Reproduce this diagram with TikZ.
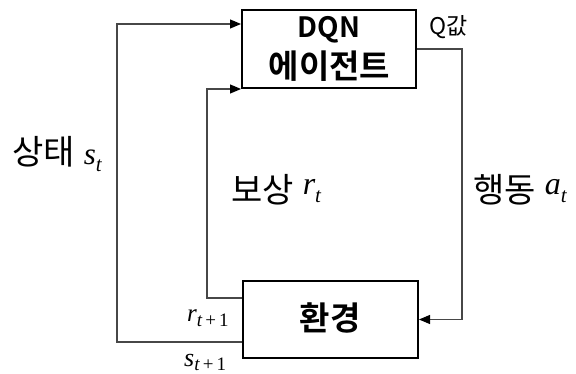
\documentclass[tikz,border=0pt]{standalone}
\usepackage{fontspec}
\usetikzlibrary{arrows.meta}
\newfontfamily\kr{Noto Sans CJK KR}
\newfontfamily\krb{Noto Sans CJK KR Bold}
\newfontfamily\tms{Liberation Serif}
% #1 base, #2 subscript, #3 base size, #4 sub size, #5 lowering
\newcommand\mvsub[5]{{\tms\itshape\fontsize{#3}{#3}\selectfont #1\raisebox{-#5}{\fontsize{#4}{#4}\selectfont #2}}}
\begin{document}
\begin{tikzpicture}[x=1pt,y=-1pt,
  box/.style={draw=black,line width=2pt,rectangle,inner sep=0pt},
  conn/.style={draw=black!72,line width=1.2pt,-{Triangle[length=11pt,width=9pt,fill=black,color=black]}},
  lab/.style={inner sep=0pt,anchor=base west},
  txt/.style={inner sep=0pt}]
\useasboundingbox (0,0) rectangle (576,374);
\node[box,minimum width=174pt,minimum height=78pt] (dqn) at (329,49) {};
\node[txt] (dqn1) at (329,30) {\krb\fontsize{28}{28}\selectfont DQN};
\node[txt] (dqn2) at (329.5,66) {\krb\fontsize{33}{33}\selectfont 에이전트};
\node[box,minimum width=175pt,minimum height=77pt] (env) at (330.5,319.5) {};
\node[txt] (envt) at (330,317.5) {\krb\fontsize{33}{33}\selectfont 환경};
\coordinate (rc) at (207,298);
\coordinate (sc) at (117,342);
\coordinate (qc) at (462,49);
\draw[conn] (dqn.east) -- (qc) |- (env.east);
\draw[conn] (env.west |- rc) -- (rc) |- (dqn.south west);
\draw[conn] (env.west |- sc) -- (sc) |- ([yshift=25pt]dqn.west);
\node[lab] (q) at (429,35) {\kr\fontsize{23}{23}\selectfont Q값};
\node[lab] (st) at (12,165) {\kr\fontsize{34}{34}\selectfont 상태\hspace{9pt}\mvsub{s}{t}{31}{21}{7pt}};
\node[lab] (rt) at (231,203) {\kr\fontsize{34}{34}\selectfont 보상\hspace{9pt}\raisebox{8pt}{\mvsub{r}{t}{32}{21}{8pt}}};
\node[lab] (at) at (473,203) {\kr\fontsize{34}{34}\selectfont 행동\hspace{9pt}\raisebox{8pt}{\mvsub{a}{t}{32}{21}{8pt}}};
\node[lab] (r1) at (187,322) {\mvsub{r}{t\upshape\,+\,1}{25}{19}{5pt}};
\node[lab] (s1) at (184,366) {\mvsub{s}{t\upshape\,+\,1}{26}{19}{4pt}};
\end{tikzpicture}
\end{document}
